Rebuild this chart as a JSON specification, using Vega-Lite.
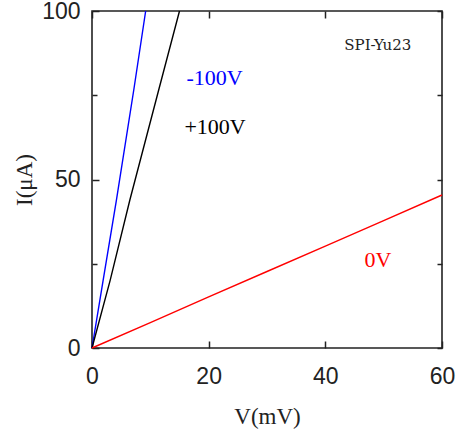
{
  "$schema": "https://vega.github.io/schema/vega-lite/v6.json",
  "width": 350,
  "height": 337,
  "autosize": {"type": "none"},
  "padding": {"left": 92, "top": 11, "right": 15, "bottom": 89},
  "background": "white",
  "config": {
    "view": {"stroke": "#222", "strokeWidth": 1.6},
    "axis": {
      "grid": false,
      "domain": false,
      "labelFlush": false,
      "tickColor": "#222",
      "tickWidth": 1.5,
      "labelFont": "Liberation Sans",
      "labelFontSize": 23,
      "labelColor": "#222",
      "titleFont": "Liberation Serif",
      "titleFontSize": 23,
      "titleFontWeight": "normal",
      "titleColor": "#222"
    }
  },
  "datasets": {
    "curves": [
      {"bias": "-100V", "V": 0, "I": 0},
      {"bias": "-100V", "V": 1.9, "I": 20},
      {"bias": "-100V", "V": 4.2, "I": 44},
      {"bias": "-100V", "V": 7.2, "I": 77},
      {"bias": "-100V", "V": 9.2, "I": 100},
      {"bias": "+100V", "V": 0, "I": 0},
      {"bias": "+100V", "V": 3.1, "I": 20},
      {"bias": "+100V", "V": 6.5, "I": 44},
      {"bias": "+100V", "V": 11.5, "I": 77},
      {"bias": "+100V", "V": 15.0, "I": 100},
      {"bias": "0V", "V": 0, "I": 0},
      {"bias": "0V", "V": 10, "I": 7.5},
      {"bias": "0V", "V": 20, "I": 15.2},
      {"bias": "0V", "V": 30, "I": 22.7},
      {"bias": "0V", "V": 40, "I": 30.2},
      {"bias": "0V", "V": 50, "I": 37.8},
      {"bias": "0V", "V": 60, "I": 45.4}
    ],
    "labels": [
      {"text": "-100V", "x": 21.0, "y": 80.1, "bias": "-100V"},
      {"text": "+100V", "x": 21.1, "y": 65.6, "bias": "+100V"},
      {"text": "0V", "x": 49.0, "y": 26.1, "bias": "0V"}
    ],
    "tag": [
      {"text": "SPI-Yu23", "x": 49.0, "y": 89.9}
    ]
  },
  "layer": [
    {
      "data": {"name": "curves"},
      "mark": {"type": "line", "strokeWidth": 1.4},
      "encoding": {
        "x": {
          "field": "V", "type": "quantitative",
          "scale": {"domain": [0, 60], "nice": false, "zero": false},
          "axis": {
            "orient": "bottom",
            "values": [0, 20, 40, 60],
            "tickSize": -7,
            "labelPadding": 24,
            "title": "V(mV)",
            "titlePadding": 17
          }
        },
        "y": {
          "field": "I", "type": "quantitative",
          "scale": {"domain": [0, 100], "nice": false},
          "axis": {
            "orient": "left",
            "values": [0, 25, 50, 75, 100],
            "labelExpr": "datum.value % 50 === 0 ? datum.label : ''",
            "tickSize": {"condition": {"test": "datum.value % 50 !== 0", "value": -5}, "value": -7},
            "labelPadding": 19,
            "title": "I(μA)",
            "titlePadding": 5
          }
        },
        "color": {
          "field": "bias", "type": "nominal",
          "scale": {"domain": ["-100V", "+100V", "0V"], "range": ["#0000ff", "#000000", "#ff0000"]},
          "legend": null
        }
      }
    },
    {
      "data": {"name": "labels"},
      "mark": {"type": "text", "font": "Liberation Serif", "fontSize": 22, "align": "center", "baseline": "middle"},
      "encoding": {
        "x": {
          "field": "x", "type": "quantitative",
          "axis": {"orient": "top", "values": [0, 20, 40, 60], "tickSize": -7, "labels": false, "title": null}
        },
        "y": {
          "field": "y", "type": "quantitative",
          "axis": {"orient": "right", "values": [0, 25, 50, 75, 100], "tickSize": -5, "labels": false, "title": null}
        },
        "text": {"field": "text"},
        "color": {
          "field": "bias", "type": "nominal",
          "scale": {"domain": ["-100V", "+100V", "0V"], "range": ["#0000ff", "#000000", "#ff0000"]},
          "legend": null
        }
      }
    },
    {
      "data": {"name": "tag"},
      "mark": {"type": "text", "font": "DejaVu Serif", "fontSize": 15, "align": "center", "baseline": "middle", "color": "#222"},
      "encoding": {
        "x": {"field": "x", "type": "quantitative", "axis": null},
        "y": {"field": "y", "type": "quantitative", "axis": null},
        "text": {"field": "text"}
      }
    }
  ]
}
